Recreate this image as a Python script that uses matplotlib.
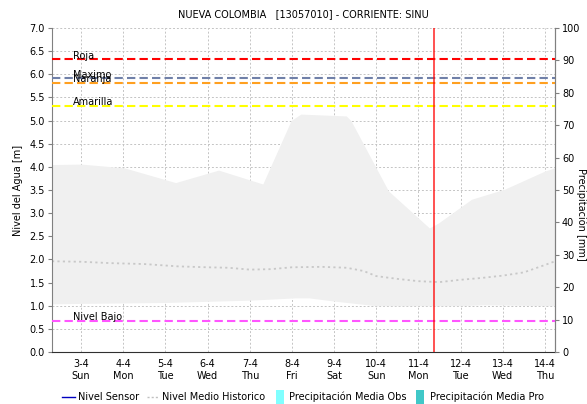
import numpy as np
import matplotlib
matplotlib.use('Agg')
import matplotlib.pyplot as plt
from matplotlib.lines import Line2D

# days since 3-4 (x axis is in days)
day_labels = ['3-4\nSun', '4-4\nMon', '5-4\nTue', '6-4\nWed', '7-4\nThu', '8-4\nFri',
              '9-4\nSat', '10-4\nSun', '11-4\nMon', '12-4\nTue', '13-4\nWed', '14-4\nThu']

# historical envelope (max / min) of water level [m]
env_x = [-0.69, 0.0, 1.02, 2.24, 3.26, 4.31, 4.98, 5.21, 6.29, 6.40, 7.29, 8.26, 8.48, 9.26, 10.05, 11.0, 11.24]
env_top = [4.05, 4.06, 3.98, 3.66, 3.93, 3.63, 5.0, 5.14, 5.10, 5.0, 3.48, 2.68, 2.79, 3.30, 3.52, 3.91, 3.98]
low_x = [-0.69, 0.0, 2.0, 4.0, 5.1, 5.4, 6.0, 6.5, 7.0, 9.0, 9.5, 11.24]
env_low = [1.04, 1.05, 1.07, 1.12, 1.17, 1.17, 1.10, 1.05, 1.00, 1.00, 1.02, 1.00]

# historical mean level
med_x = [-0.69, 0.0, 0.7, 1.5, 2.3, 3.0, 3.5, 4.0, 4.5, 5.0, 5.7, 6.3, 6.7, 7.0, 7.5, 8.0, 8.5, 9.0, 9.5, 10.0, 10.5, 11.0, 11.24]
med_y = [1.96, 1.95, 1.92, 1.90, 1.85, 1.83, 1.82, 1.78, 1.79, 1.83, 1.84, 1.82, 1.75, 1.64, 1.58, 1.53, 1.51, 1.56, 1.60, 1.65, 1.72, 1.88, 1.96]

# alert thresholds [m]
thr_names = ['Roja', 'Maximo', 'Naranja', 'Amarilla', 'Nivel Bajo']
thr_values = [6.32, 5.91, 5.82, 5.31, 0.68]
thr_colors = ['#ff0000', '#7080a8', '#ffa020', '#ffff00', '#ff55ff']

now_day = 8.37

plt.rcParams['font.family'] = ['DejaVu Sans']
plt.rcParams['font.size'] = 7

fig = plt.figure(figsize=(5.87, 4.04), dpi=100)
ax = fig.add_axes([52 / 587, 52 / 404, 503 / 587, 324 / 404])

# envelope drawn on the top-curve abscissas, min curve interpolated onto them
xs = np.union1d(env_x, low_x)
ax.fill_between(xs, np.interp(xs, low_x, env_low), np.interp(xs, env_x, env_top),
                color='#f0f0f0', lw=0, zorder=1)
ax.plot(med_x, med_y, color='#c8c8c8', lw=1.3, ls=(0, (1.2, 1.8)), zorder=2)

for name, val, col in zip(thr_names, thr_values, thr_colors):
    ax.axhline(val, color=col, lw=1.5, ls=(0, (4, 2)), zorder=3)
    ax.text(-0.19, val + 0.02, name, fontsize=7, va='baseline', ha='left', zorder=4)

ax.axvline(now_day, color='#ff0000', lw=1.2, alpha=0.8, zorder=5)

ax.set_xlim(-0.69, 11.24)
ax.set_ylim(0, 7)
ax.set_xticks(range(len(day_labels)))
ax.set_xticklabels(day_labels)
ax.set_yticks(np.arange(0, 7.01, 0.5))
ax.set_yticklabels([f'{v:.1f}' for v in np.arange(0, 7.01, 0.5)])
ax.grid(True, color='#c4c4c4', ls=(0, (2, 2)), lw=0.7)
ax.set_axisbelow(True)
ax.tick_params(axis='x', length=0, pad=5)
ax.tick_params(axis='y', length=3, color='#808080', pad=2)

ax.spines['top'].set_visible(False)
ax.spines['left'].set_color('#808080')
ax.spines['right'].set_color('#808080')
ax.spines['bottom'].set_color('#303030')
ax.spines['bottom'].set_linestyle((0, (1, 1)))
ax.set_ylabel('Nivel del Agua [m]', fontsize=7, labelpad=5)

ax2 = ax.twinx()
ax2.set_ylim(0, 100)
ax2.set_yticks(range(0, 101, 10))
ax2.tick_params(axis='y', length=3, color='#808080', pad=2)
for s in ['top', 'bottom', 'left']:
    ax2.spines[s].set_visible(False)
ax2.spines['right'].set_color('#808080')
fig.text(581 / 587, 190 / 404, 'Precipitación [mm]', rotation=270, fontsize=7,
         ha='center', va='center')

fig.text(303 / 587, 1 - 14 / 404, 'NUEVA COLOMBIA   [13057010] - CORRIENTE: SINU',
         ha='center', va='center', fontsize=7)

# narrow upright rectangle used as the swatch for the precipitation entries
bar_marker = [(-0.3, -0.5), (0.3, -0.5), (0.3, 0.5), (-0.3, 0.5), (-0.3, -0.5)]
handles = [
    Line2D([], [], color='#0000c0', lw=1),
    Line2D([], [], color='#c0c0c0', lw=1, ls=(0, (1.5, 1.5))),
    Line2D([], [], marker=bar_marker, ls='', color='#80ffff', markersize=10, markeredgewidth=0),
    Line2D([], [], marker=bar_marker, ls='', color='#40c8c8', markersize=10, markeredgewidth=0),
]
labels = ['Nivel Sensor', 'Nivel Medio Historico', 'Precipitación Media Obs', 'Precipitación Media Pro']
fig.legend(handles, labels, loc='center', bbox_to_anchor=(303 / 587, 1 - 397 / 404), ncol=4,
           frameon=False, fontsize=7, handlelength=1.3, handletextpad=0.3, columnspacing=0.8,
           borderpad=0)

fig.savefig('out.png', dpi=100, facecolor='white')
